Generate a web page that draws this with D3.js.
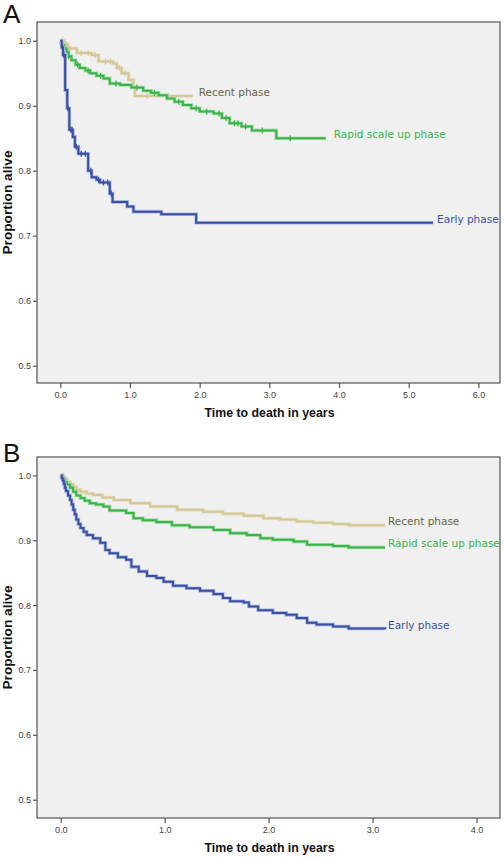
<!DOCTYPE html>
<html>
<head>
<meta charset="utf-8">
<script src="https://cdn.jsdelivr.net/npm/d3@7"></script>
<style>
  html, body { margin: 0; padding: 0; background: #ffffff; }
  svg { display: block; }
</style>
</head>
<body>
<svg id="chart" width="504" height="860"></svg>
<script>
// ---------- DATA ----------
// Panel A (Kaplan-Meier steps: time in years, proportion alive after step)
const earlyA_t  = [0, 0.02, 0.04, 0.07, 0.10, 0.13, 0.18, 0.21, 0.26, 0.40, 0.45, 0.52, 0.57, 0.71, 0.75, 0.96, 1.05, 1.45, 1.95, 5.35];
const earlyA_s  = [1.0, 0.99, 0.978, 0.924, 0.896, 0.863, 0.852, 0.837, 0.826, 0.80, 0.79, 0.786, 0.782, 0.765, 0.752, 0.745, 0.737, 0.733, 0.72, 0.72];
const earlyA_cens = [0.03, 0.05, 0.11, 0.15, 0.17, 0.23, 0.30, 0.36, 0.44, 0.55, 0.62, 0.68, 0.73];

const rapidA_t  = [0, 0.01, 0.03, 0.06, 0.09, 0.12, 0.16, 0.22, 0.28, 0.36, 0.43, 0.52, 0.62, 0.71, 0.86, 1.02, 1.19, 1.30, 1.41, 1.53, 1.64, 1.76, 1.88, 2.0, 2.2, 2.32, 2.43, 2.6, 2.75, 3.1, 3.81];
const rapidA_s  = [1.0, 0.996, 0.993, 0.988, 0.983, 0.976, 0.970, 0.963, 0.958, 0.954, 0.950, 0.946, 0.942, 0.934, 0.932, 0.928, 0.923, 0.920, 0.916, 0.911, 0.906, 0.901, 0.896, 0.891, 0.888, 0.881, 0.873, 0.868, 0.862, 0.85, 0.85];
const rapidA_cens = [0.12, 0.25, 0.40, 0.58, 0.80, 1.10, 1.35, 1.70, 1.95, 2.10, 2.28, 2.38, 2.50, 2.55, 2.66, 2.90, 3.30];

const recentA_t = [0, 0.05, 0.10, 0.14, 0.24, 0.45, 0.55, 0.76, 0.81, 0.88, 0.98, 1.05, 1.07, 1.90];
const recentA_s = [1.0, 0.995, 0.99, 0.988, 0.981, 0.978, 0.968, 0.965, 0.958, 0.95, 0.94, 0.929, 0.915, 0.915];
const recentA_cens = [0.03, 0.08, 0.12, 0.30, 0.40, 0.50, 0.65, 0.72, 0.85, 0.93, 1.25, 1.55];

// Panel B
const earlyB_t  = [0, 0.01, 0.02, 0.03, 0.04, 0.05, 0.07, 0.09, 0.105, 0.12, 0.135, 0.15, 0.17, 0.19, 0.22, 0.25, 0.31, 0.38, 0.43, 0.47, 0.55, 0.63, 0.68, 0.75, 0.83, 0.92, 0.99, 1.08, 1.21, 1.34, 1.47, 1.56, 1.63, 1.76, 1.81, 1.90, 2.04, 2.17, 2.27, 2.37, 2.46, 2.62, 2.77, 3.12];
const earlyB_s  = [1.0, 0.996, 0.992, 0.987, 0.981, 0.976, 0.969, 0.962, 0.955, 0.947, 0.940, 0.932, 0.925, 0.919, 0.913, 0.908, 0.903, 0.896, 0.885, 0.88, 0.874, 0.870, 0.859, 0.852, 0.845, 0.842, 0.836, 0.83, 0.826, 0.822, 0.817, 0.811, 0.806, 0.804, 0.798, 0.792, 0.788, 0.785, 0.780, 0.773, 0.770, 0.767, 0.764, 0.763];

const rapidB_t  = [0, 0.02, 0.04, 0.06, 0.09, 0.12, 0.15, 0.19, 0.23, 0.28, 0.34, 0.41, 0.47, 0.63, 0.70, 0.79, 0.92, 1.07, 1.24, 1.47, 1.63, 1.79, 1.92, 2.04, 2.24, 2.37, 2.62, 2.77, 3.12];
const rapidB_s  = [1.0, 0.995, 0.99, 0.986, 0.981, 0.975, 0.969, 0.965, 0.961, 0.957, 0.955, 0.952, 0.946, 0.942, 0.934, 0.931, 0.928, 0.923, 0.920, 0.916, 0.911, 0.908, 0.903, 0.901, 0.898, 0.893, 0.891, 0.889, 0.889];

const recentB_t = [0, 0.02, 0.04, 0.06, 0.09, 0.12, 0.15, 0.19, 0.25, 0.31, 0.40, 0.51, 0.67, 0.86, 1.12, 1.37, 1.56, 1.76, 1.95, 2.11, 2.27, 2.43, 2.62, 2.77, 3.12];
const recentB_s = [1.0, 0.997, 0.994, 0.99, 0.986, 0.982, 0.978, 0.975, 0.972, 0.970, 0.966, 0.962, 0.957, 0.952, 0.947, 0.944, 0.941, 0.938, 0.934, 0.932, 0.929, 0.927, 0.925, 0.923, 0.923];

const seriesNames = ["Recent phase", "Rapid scale up phase", "Early phase"];
const yTicks  = [0.5, 0.6, 0.7, 0.8, 0.9, 1.0];
const xTicksA = [0, 1, 2, 3, 4, 5, 6];
const xTicksB = [0, 1, 2, 3, 4];
const panelLetters = ["A", "B"];
const xTitle = "Time to death in years";
const yTitle = "Proportion alive";

// ---------- STYLE ----------
const colors = {
  "Recent phase":        { line: "#d3c898", halo: "#e6dfc2", text: "#6b6546" },
  "Rapid scale up phase":{ line: "#3cb34a", halo: "#a6dfab", text: "#3cb34a" },
  "Early phase":         { line: "#3a50a2", halo: "#aab7e2", text: "#3a50a2" }
};

const svg = d3.select("#chart");
const zip = (t, s) => t.map((d, i) => ({ t: d, s: s[i] }));

function drawPanel(cfg) {
  const g = svg.append("g");
  const x = d3.scaleLinear().domain(cfg.xDomain).range([cfg.left, cfg.right]);
  const y = d3.scaleLinear().domain(cfg.yDomain).range([cfg.bottom, cfg.top]);

  g.append("rect")
    .attr("x", cfg.left).attr("y", cfg.top)
    .attr("width", cfg.right - cfg.left).attr("height", cfg.bottom - cfg.top)
    .attr("fill", "#f0f0f0").attr("stroke", "#555").attr("stroke-width", 1.2);

  const yAxis = d3.axisLeft(y).tickValues(yTicks).tickFormat(d3.format(".1f")).tickSize(4).tickPadding(2);
  const ya = g.append("g").attr("transform", `translate(${cfg.left},0)`).call(yAxis);
  ya.select(".domain").remove();
  ya.selectAll("line").attr("stroke", "#555").attr("stroke-width", 1.2);
  ya.selectAll("text").attr("font-family", "Liberation Sans, Arial, sans-serif").attr("font-size", 9).attr("fill", "#444");

  const xAxis = d3.axisBottom(x).tickValues(cfg.xTicks).tickFormat(d3.format(".1f")).tickSize(5).tickPadding(4);
  const xa = g.append("g").attr("transform", `translate(0,${cfg.bottom})`).call(xAxis);
  xa.select(".domain").remove();
  xa.selectAll("line").attr("stroke", "#555").attr("stroke-width", 1.2);
  xa.selectAll("text").attr("font-family", "Liberation Sans, Arial, sans-serif").attr("font-size", 9).attr("fill", "#444");

  g.append("text")
    .attr("x", (cfg.left + cfg.right) / 2 + 1).attr("y", cfg.bottom + 31)
    .attr("text-anchor", "middle").attr("dominant-baseline", "middle")
    .attr("font-family", "Liberation Sans, Arial, sans-serif").attr("font-weight", "bold")
    .attr("font-size", 13).attr("fill", "#111")
    .attr("textLength", 130).attr("lengthAdjust", "spacingAndGlyphs")
    .text(xTitle);

  g.append("text")
    .attr("transform", `translate(9,${(cfg.top + cfg.bottom) / 2}) rotate(-90)`)
    .attr("text-anchor", "middle").attr("dominant-baseline", "middle")
    .attr("font-family", "Liberation Sans, Arial, sans-serif").attr("font-weight", "bold")
    .attr("font-size", 13).attr("fill", "#111")
    .attr("textLength", 104).attr("lengthAdjust", "spacingAndGlyphs")
    .text(yTitle);

  g.append("text")
    .attr("x", 3).attr("y", cfg.letterY)
    .attr("font-family", "Liberation Sans, Arial, sans-serif")
    .attr("font-size", 26).attr("fill", "#111")
    .text(cfg.letter);

  const line = d3.line().x(d => x(d.t)).y(d => y(d.s)).curve(d3.curveStepAfter);

  cfg.series.forEach(sr => {
    const c = colors[sr.name];
    const data = zip(sr.t, sr.s);
    g.append("path").datum(data).attr("d", line)
      .attr("fill", "none").attr("stroke", c.halo).attr("stroke-width", 3.6);
    g.append("path").datum(data).attr("d", line)
      .attr("fill", "none").attr("stroke", c.line).attr("stroke-width", 2);

    const stepVal = t => {
      let v = sr.s[0];
      for (let i = 0; i < sr.t.length; i++) if (sr.t[i] <= t) v = sr.s[i];
      return v;
    };
    (sr.cens || []).forEach(ct => {
      g.append("line")
        .attr("x1", x(ct)).attr("x2", x(ct))
        .attr("y1", y(stepVal(ct)) - 3).attr("y2", y(stepVal(ct)) + 3)
        .attr("stroke", c.line).attr("stroke-width", 1.3);
    });

    const endT = sr.t[sr.t.length - 1], endS = sr.s[sr.s.length - 1];
    g.append("text")
      .attr("x", x(endT) + sr.dx).attr("y", y(endS) - 3)
      .attr("dominant-baseline", "middle")
      .attr("font-family", "DejaVu Sans, Verdana, sans-serif")
      .attr("font-size", 10.5).attr("fill", c.text)
      .text(sr.name);
  });
}

drawPanel({
  letter: panelLetters[0], letterY: 23,
  left: 37, right: 500, top: 22, bottom: 383,
  xDomain: [-0.334, 6.31], yDomain: [0.4734, 1.0288],
  xTicks: xTicksA,
  series: [
    { name: seriesNames[0], t: recentA_t, s: recentA_s, cens: recentA_cens, dx: 6 },
    { name: seriesNames[1], t: rapidA_t,  s: rapidA_s,  cens: rapidA_cens,  dx: 8 },
    { name: seriesNames[2], t: earlyA_t,  s: earlyA_s,  cens: earlyA_cens,  dx: 4 }
  ]
});

drawPanel({
  letter: panelLetters[1], letterY: 462,
  left: 37, right: 500, top: 457, bottom: 818,
  xDomain: [-0.228, 4.226], yDomain: [0.4718, 1.0284],
  xTicks: xTicksB,
  series: [
    { name: seriesNames[0], t: recentB_t, s: recentB_s, dx: 3 },
    { name: seriesNames[1], t: rapidB_t,  s: rapidB_s,  dx: 3 },
    { name: seriesNames[2], t: earlyB_t,  s: earlyB_s,  dx: 3 }
  ]
});
</script>
</body>
</html>
